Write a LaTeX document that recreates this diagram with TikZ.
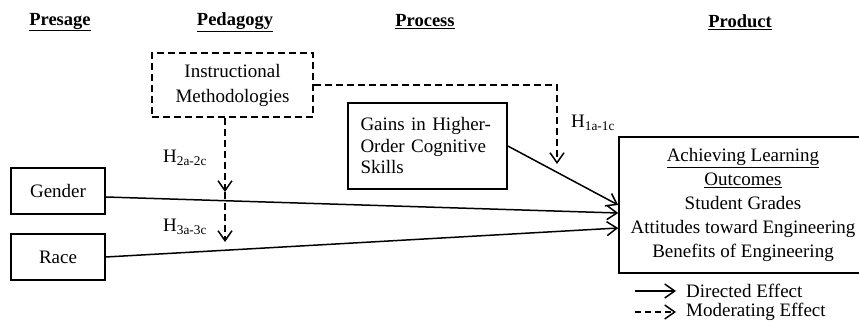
\documentclass[tikz,border=0pt]{standalone}
\usepackage{fontspec}
\setmainfont{Liberation Serif}
\usetikzlibrary{arrows.meta, positioning}

\begin{document}
\begin{tikzpicture}[
    x=1pt, y=-1pt,
    node distance=66pt,
    every node/.style={font=\fontsize{19}{24}\selectfont},
    hdr/.style={font=\fontsize{18.5}{24}\selectfont\bfseries},
    var/.style={rectangle, draw, line width=1.6pt, minimum width=94pt, minimum height=46pt},
    proc/.style={rectangle, draw, line width=1.6pt, text width=134pt, inner xsep=12.5pt, minimum height=86pt, align=left, font=\fontsize{19}{21.5}\selectfont},
    modbox/.style={rectangle, draw, line width=1.6pt, dash pattern=on 7pt off 4pt, minimum width=161pt, minimum height=64pt, align=center, font=\fontsize{19}{25}\selectfont},
    outc/.style={rectangle, draw, line width=1.6pt, minimum width=248pt, minimum height=136pt, align=center},
    hyp/.style={anchor=west, inner sep=0pt},
    lgd/.style={anchor=west, inner xsep=10pt},
    eff/.style={line width=1.5pt, -{Straight Barb[length=10pt, width=14pt]}},
    moder/.style={line width=1.5pt, dash pattern=on 7pt off 4pt, -{Straight Barb[length=10pt, width=14pt]}}
]
    \useasboundingbox (0,0) rectangle (859,323);

    \node[hdr] (presage) at (60,22) {\underline{Presage}};
    \node[hdr] (pedagogy) at (235,22) {\underline{Pedagogy}};
    \node[hdr] (process) at (425,22) {\underline{Process}};
    \node[hdr] (product) at (740,22) {\underline{Product}};

    \node[modbox] (instr) at (232.5,85) {Instructional\\Methodologies};
    \node[proc] (gains) at (427.5,146) {Gains in Higher-\\Order Cognitive\\Skills};
    \node[var] (gender) at (58,191) {Gender};
    \node[var, below of=gender] (race) {Race};
    \node[outc] (outcome) at (743,205) {\underline{Achieving Learning}\\\underline{Outcomes}\\Student Grades\\Attitudes toward Engineering\\Benefits of Engineering};

    \draw[eff] (gains.east) -- (outcome.west);
    \draw[eff] ([yshift=-6pt]gender.east) -- ([yshift=-8pt]outcome.west);
    \draw[eff] (race.east) -- ([yshift=-23pt]outcome.west);

    \coordinate (m1) at (557,164);
    \coordinate (m2) at (225,192);
    \coordinate (m3) at (225,242);
    \draw[moder] (instr.east) -| (m1);
    \draw[moder] (instr.south -| m2) -- (m2);
    \draw[moder] (m2) -- (m3);

    \node[hyp] (h1) at (571,123) {H\textsubscript{1a-1c}};
    \node[hyp] (h2) at (163,158) {H\textsubscript{2a-2c}};
    \node[hyp] (h3) at (163,227) {H\textsubscript{3a-3c}};

    \node[lgd] (dirlbl) at (676,291) {Directed Effect};
    \node[lgd] (modlbl) at (676,312) {Moderating Effect};
    \coordinate (d0) at (635,291);
    \coordinate (m0) at (635,312);
    \draw[eff] (d0) -- (dirlbl.west);
    \draw[moder, dash pattern=on 6pt off 4pt] (m0) -- (modlbl.west);
\end{tikzpicture}
\end{document}
